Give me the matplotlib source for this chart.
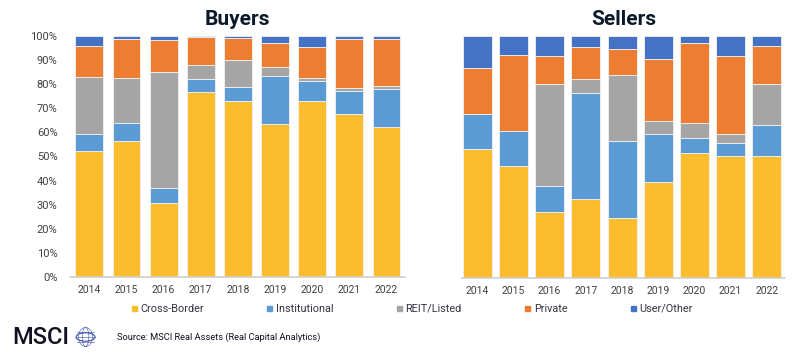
import numpy as np
import matplotlib
matplotlib.use("Agg")
import matplotlib.pyplot as plt
from matplotlib.lines import Line2D
from matplotlib.patches import Circle, Ellipse

years = ["2014", "2015", "2016", "2017", "2018", "2019", "2020", "2021", "2022"]
series = ["Cross-Border", "Institutional", "REIT/Listed", "Private", "User/Other"]
colors = ["#FBBD2D", "#5B9BD5", "#A5A5A5", "#ED7D31", "#4472C4"]

# cumulative tops (%), the last segment fills to 100
buyers_cum = {
    "Cross-Border": [52.1, 56.6, 30.5, 76.8, 73.1, 63.5, 72.9, 67.8, 62.2],
    "Institutional": [59.3, 64.0, 36.9, 82.2, 78.9, 83.6, 81.4, 77.2, 77.9],
    "REIT/Listed": [82.9, 82.7, 85.1, 87.8, 90.2, 87.2, 82.6, 78.3, 79.3],
    "Private": [96.0, 98.9, 98.2, 99.4, 99.3, 97.1, 95.4, 98.6, 98.9],
}
sellers_cum = {
    "Cross-Border": [53.2, 46.1, 27.4, 32.7, 24.9, 39.5, 51.6, 50.3, 50.3],
    "Institutional": [67.9, 60.7, 38.1, 76.6, 56.5, 59.4, 57.9, 55.8, 63.3],
    "REIT/Listed": [67.9, 60.7, 80.3, 82.1, 83.9, 64.9, 64.0, 59.7, 80.1],
    "Private": [86.8, 92.3, 91.7, 95.5, 94.5, 90.6, 97.0, 91.7, 96.0],
}

plt.rcParams["font.family"] = ["Roboto", "DejaVu Sans"]

fig = plt.figure(figsize=(8, 3.52), dpi=100)
ax1 = fig.add_axes([70 / 800, 75 / 352, 335 / 800, 241 / 352])
ax2 = fig.add_axes([462 / 800, 74 / 352, 323 / 800, 242 / 352])


def draw(ax, cum, width, title, left):
    x = np.arange(len(years))
    prev = np.zeros(len(years))
    for name, col in zip(series, colors):
        top = np.array(cum[name]) if name in cum else np.full(len(years), 100.0)
        ax.bar(x, (top - prev) / 100, bottom=prev / 100, width=width, color=col,
               edgecolor="#F2F2F2", linewidth=0.6)
        prev = top
    ax.set_ylim(0, 1)
    ax.set_xlim(left, 8.5)
    ax.set_xticks(x)
    ax.set_xticklabels(years, fontsize=7.5, color="#404040")
    ax.tick_params(axis="x", length=0, pad=6)
    for s in ["top", "right", "left"]:
        ax.spines[s].set_visible(False)
    ax.spines["bottom"].set_color("#D0D0D0")
    ax.spines["bottom"].set_linewidth(1.2)
    ax.set_title(title, fontsize=15, fontweight="bold", color="#0B1A2B", pad=8)


draw(ax1, buyers_cum, 0.75, "Buyers", -0.52)
ax1.set_yticks(np.arange(0, 1.01, 0.1))
ax1.set_yticklabels(["%d%%" % v for v in range(0, 101, 10)], fontsize=8, color="#404040")
ax1.tick_params(axis="y", length=0, pad=9)

draw(ax2, sellers_cum, 0.8, "Sellers", -0.42)
ax2.set_yticks([])

handles = [Line2D([], [], marker="s", linestyle="none", color=c, markersize=3.6) for c in colors]
leg = fig.legend(handles, series, loc="center left", bbox_to_anchor=(131 / 800, 1 - 309 / 352),
                 ncol=5, frameon=False, handlelength=0.5, handletextpad=0.35,
                 columnspacing=5.8, borderpad=0, borderaxespad=0, prop={"size": 7.8})
for t in leg.get_texts():
    t.set_color("#333344")

# MSCI logo and source
fig.text(12 / 800, 1 - 337 / 352, "MSCI", fontsize=17, fontweight="medium", color="#111122",
         va="center", ha="left")
cx, cy, r = 85.5, 337, 9.5
gcol = "#3B4FA8"
fig.patches.append(Circle((cx / 800, 1 - cy / 352), r / 800, transform=fig.transFigure,
                          fill=False, ec=gcol, lw=0.8))
for w in [0.35, 0.75]:
    fig.patches.append(Ellipse((cx / 800, 1 - cy / 352), 2 * r * w / 800, 2 * r / 352,
                               transform=fig.transFigure, fill=False, ec=gcol, lw=0.4))
for dy in [-5, 0, 5]:
    half = np.sqrt(r ** 2 - dy ** 2)
    fig.lines.append(Line2D([(cx - half) / 800, (cx + half) / 800],
                            [1 - (cy + dy) / 352] * 2, transform=fig.transFigure,
                            color=gcol, lw=0.4))
fig.text(117 / 800, 1 - 337 / 352, "Source: MSCI Real Assets (Real Capital Analytics)",
         fontsize=6.7, color="#111122", va="center", ha="left")

fig.savefig("out.png", dpi=100, facecolor="white")
